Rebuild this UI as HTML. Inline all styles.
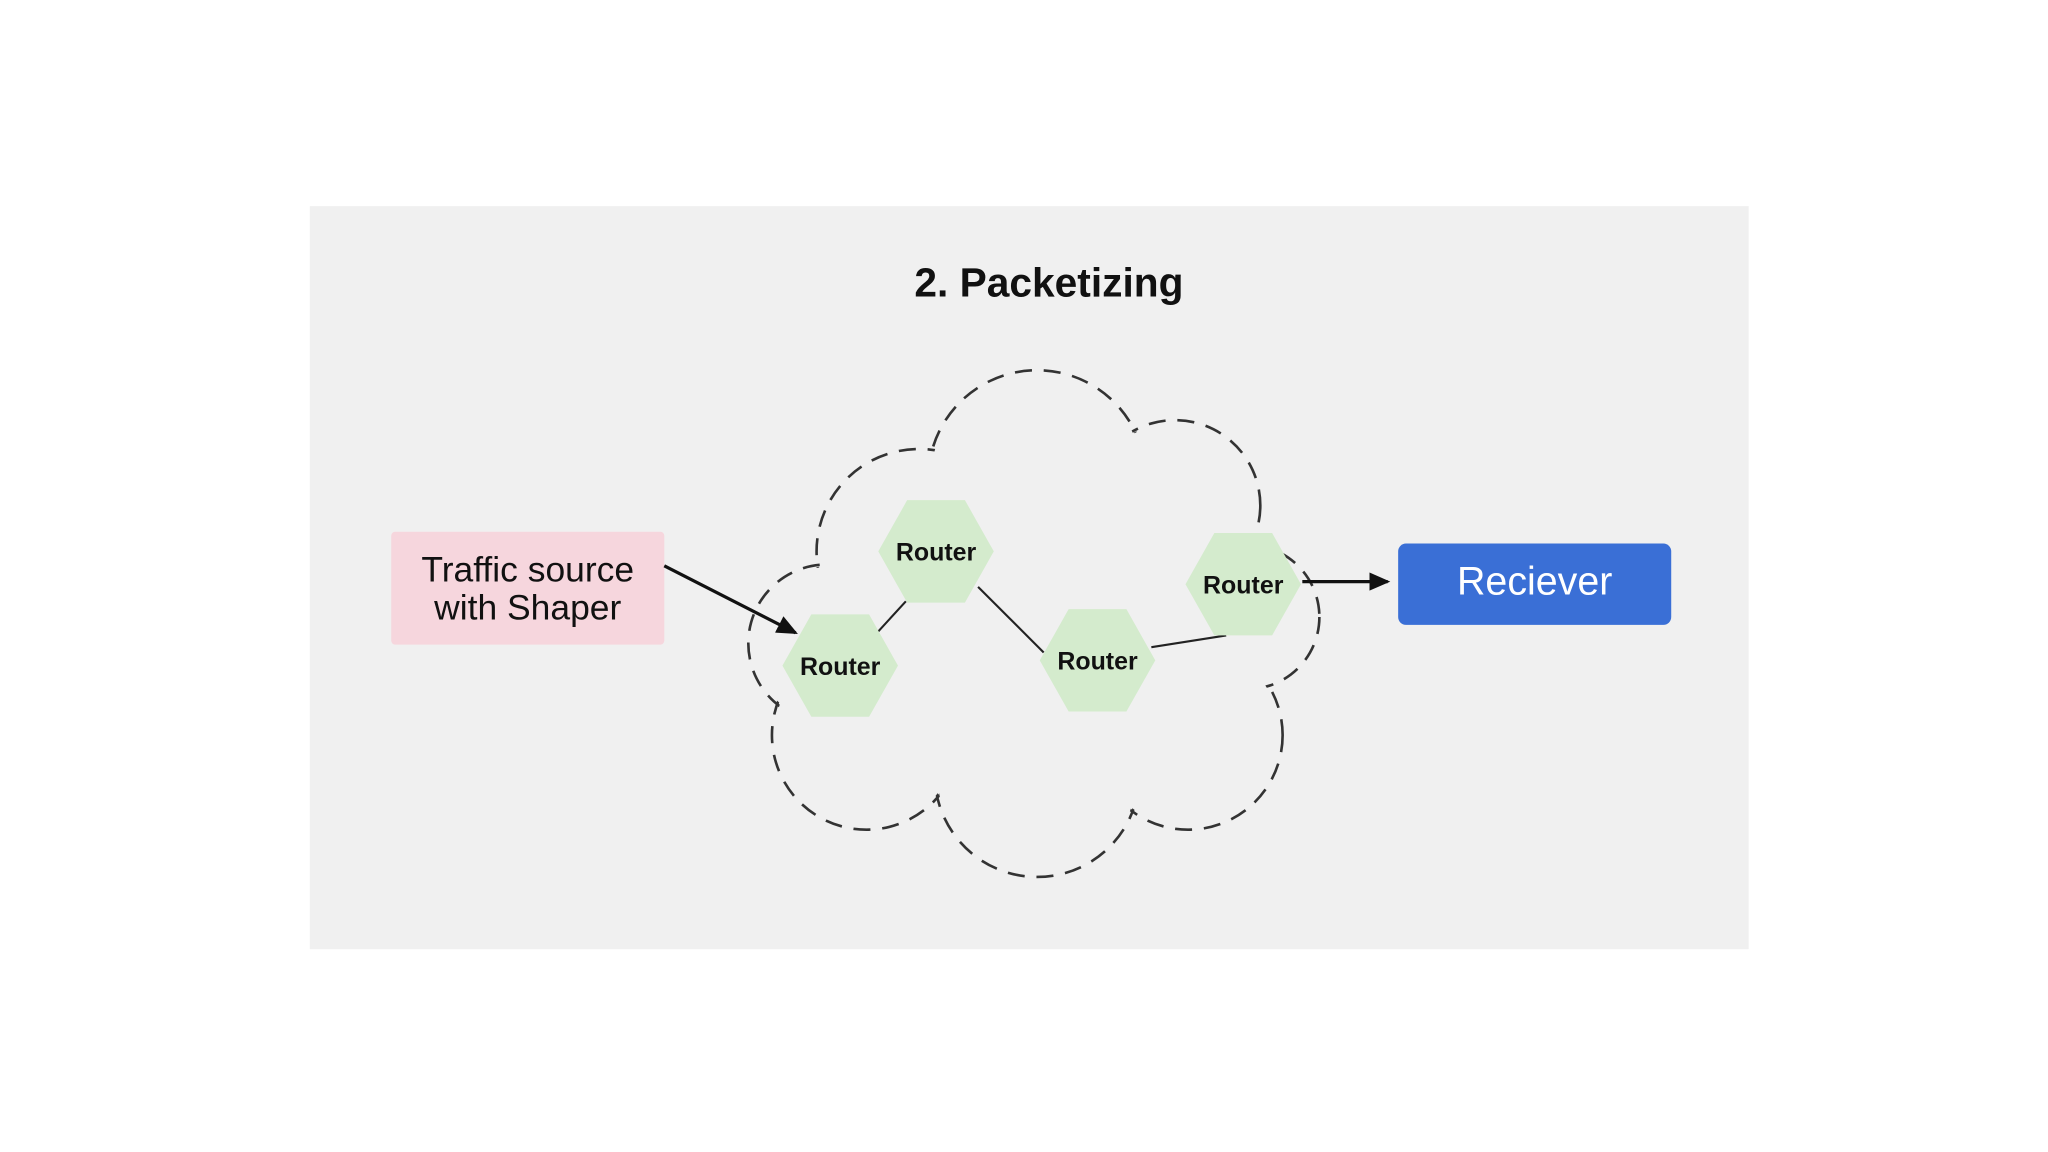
<!DOCTYPE html>
<html><head><meta charset="utf-8"><style>
html,body{margin:0;padding:0;background:#fff;width:2048px;height:1152px;overflow:hidden}
svg{display:block}
text{font-family:"Liberation Sans","DejaVu Sans",sans-serif}
</style></head><body>
<svg width="2048" height="1152" viewBox="0 0 1560 877.5" preserveAspectRatio="none" xmlns="http://www.w3.org/2000/svg">
<defs>
<marker id="ah" markerWidth="16" markerHeight="14" refX="14" refY="7" orient="auto" markerUnits="userSpaceOnUse">
<path d="M0,0 L16,7 L0,14 z" fill="#111"/>
</marker>
</defs>
<rect x="0" y="0" width="1560" height="877.5" fill="#fff"/>
<rect x="236" y="157" width="1096" height="566" fill="#f0f0f0"/>
<text x="799" y="226" font-size="31" font-weight="bold" text-anchor="middle" fill="#111">2. Packetizing</text>

<g fill="none" stroke="#333" stroke-width="2" stroke-dasharray="13 9">
<circle cx="790" cy="365" r="83"/>
<circle cx="895" cy="385" r="65"/>
<circle cx="950" cy="470" r="55"/>
<circle cx="905" cy="560" r="72"/>
<circle cx="790" cy="590" r="78"/>
<circle cx="660" cy="560" r="72"/>
<circle cx="630" cy="490" r="60"/>
<circle cx="700" cy="420" r="78"/>
</g>
<g fill="#f0f0f0">
<circle cx="790" cy="365" r="81"/>
<circle cx="895" cy="385" r="63"/>
<circle cx="950" cy="470" r="53"/>
<circle cx="905" cy="560" r="70"/>
<circle cx="790" cy="590" r="76"/>
<circle cx="660" cy="560" r="70"/>
<circle cx="630" cy="490" r="58"/>
<circle cx="700" cy="420" r="76"/>
<circle cx="790" cy="480" r="110"/>
<circle cx="900" cy="470" r="40"/>
</g>

<g stroke="#222" stroke-width="1.6">
<line x1="690" y1="458" x2="669" y2="481"/>
<line x1="745" y1="447" x2="795" y2="497"/>
<line x1="877" y1="493" x2="934" y2="484"/>
</g>

<g fill="#d4ebcd">
<polygon points="669,420 691,381 735,381 757,420 735,459 691,459"/>
<polygon points="596,507 618,468 662,468 684,507 662,546 618,546"/>
<polygon points="792,503 814,464 858,464 880,503 858,542 814,542"/>
<polygon points="903,445 925,406 969,406 991,445 969,484 925,484"/>
</g>
<g font-size="19" font-weight="bold" text-anchor="middle" fill="#111">
<text x="713" y="427">Router</text>
<text x="640" y="514">Router</text>
<text x="836" y="510">Router</text>
<text x="947" y="452">Router</text>
</g>

<rect x="298" y="405" width="208" height="86" rx="3" fill="#f6d6dd"/>
<text x="402" y="443" font-size="27" text-anchor="middle" fill="#111">Traffic source</text>
<text x="402" y="472" font-size="27" text-anchor="middle" fill="#111">with Shaper</text>

<rect x="1065" y="414" width="208" height="62" rx="6" fill="#3a6fd6"/>
<text x="1169" y="453" font-size="30" text-anchor="middle" fill="#fff">Reciever</text>

<g stroke="#111" stroke-width="2.5">
<line x1="506" y1="431" x2="606" y2="482" marker-end="url(#ah)"/>
<line x1="992" y1="443" x2="1057" y2="443" marker-end="url(#ah)"/>
</g>
</svg>
</body></html>
